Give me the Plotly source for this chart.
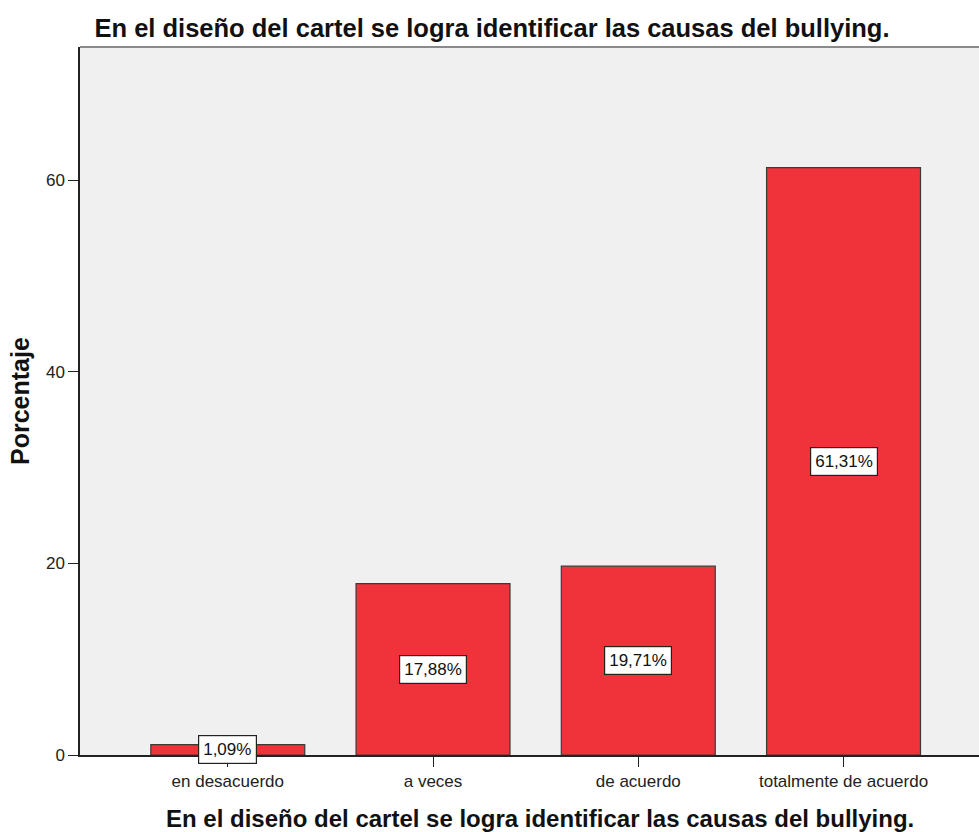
import plotly.graph_objects as go

categories = ["en desacuerdo", "a veces", "de acuerdo", "totalmente de acuerdo"]
values = [1.09, 17.88, 19.71, 61.31]
labels = ["1,09%", "17,88%", "19,71%", "61,31%"]
y_ticks = [0, 20, 40, 60]
title = "En el diseño del cartel se logra identificar las causas del bullying."

FONT = "Liberation Sans, Arial"
W, H = 979, 832

fig = go.Figure()
fig.add_trace(go.Bar(
    x=list(range(len(categories))), y=values, width=0.75,
    marker=dict(color="#F0323A", line=dict(color="#3a3a3a", width=1.2)),
    hoverinfo="skip",
))

for i, (v, lab) in enumerate(zip(values, labels)):
    fig.add_annotation(x=i, y=v / 2, xref="x", yref="y", text=lab, showarrow=False,
                       font=dict(family=FONT, size=17, color="#111"),
                       bgcolor="white", bordercolor="#222", borderwidth=1.2, borderpad=4)

# axis titles as annotations for precise placement
fig.add_annotation(xref="paper", yref="paper", x=0, y=0.5, xshift=-60, textangle=-90,
                   xanchor="center", yanchor="middle", showarrow=False,
                   text="<b>Porcentaje</b>", font=dict(family=FONT, size=25, color="#111"))
fig.add_annotation(xref="paper", yref="paper", x=(540 - 80) / 899, y=0, yshift=-63,
                   xanchor="center", yanchor="middle", showarrow=False,
                   text="<b>" + title + "</b>", font=dict(family=FONT, size=24, color="#111"))

fig.update_layout(
    width=W, height=H,
    margin=dict(l=80, r=0, t=47, b=77, autoexpand=False),
    paper_bgcolor="white", plot_bgcolor="#F0F0F0",
    showlegend=False,
    title=dict(text="<b>" + title + "</b>", x=492 / W, xanchor="center", xref="container",
               y=1 - 28 / H, yanchor="middle",
               font=dict(family=FONT, size=25.5, color="#111")),
    font=dict(family=FONT, size=17, color="#222"),
)
fig.update_xaxes(
    range=[-0.72, 3.66], tickmode="array", tickvals=list(range(len(categories))),
    ticktext=categories, ticks="outside", ticklen=10, tickcolor="#222", tickwidth=1.2,
    showline=True, linecolor="#222", linewidth=1.5, showgrid=False, zeroline=False,
    tickfont=dict(size=17, color="#222"),
)
fig.update_yaxes(
    range=[0, 73.9], tickmode="array", tickvals=y_ticks, ticks="outside", ticklen=10,
    tickcolor="#222", tickwidth=1.2, showline=True, linecolor="#222", linewidth=1.5,
    showgrid=False, zeroline=False, tickfont=dict(size=17, color="#222"),
)
fig.add_shape(type="line", xref="paper", yref="paper", x0=0, x1=1, y0=1, y1=1,
              line=dict(color="#8a8a8a", width=2))

fig.write_html("out.html", config={"displayModeBar": False},
               post_script="document.body.style.margin='0';document.body.style.overflow='hidden';")
